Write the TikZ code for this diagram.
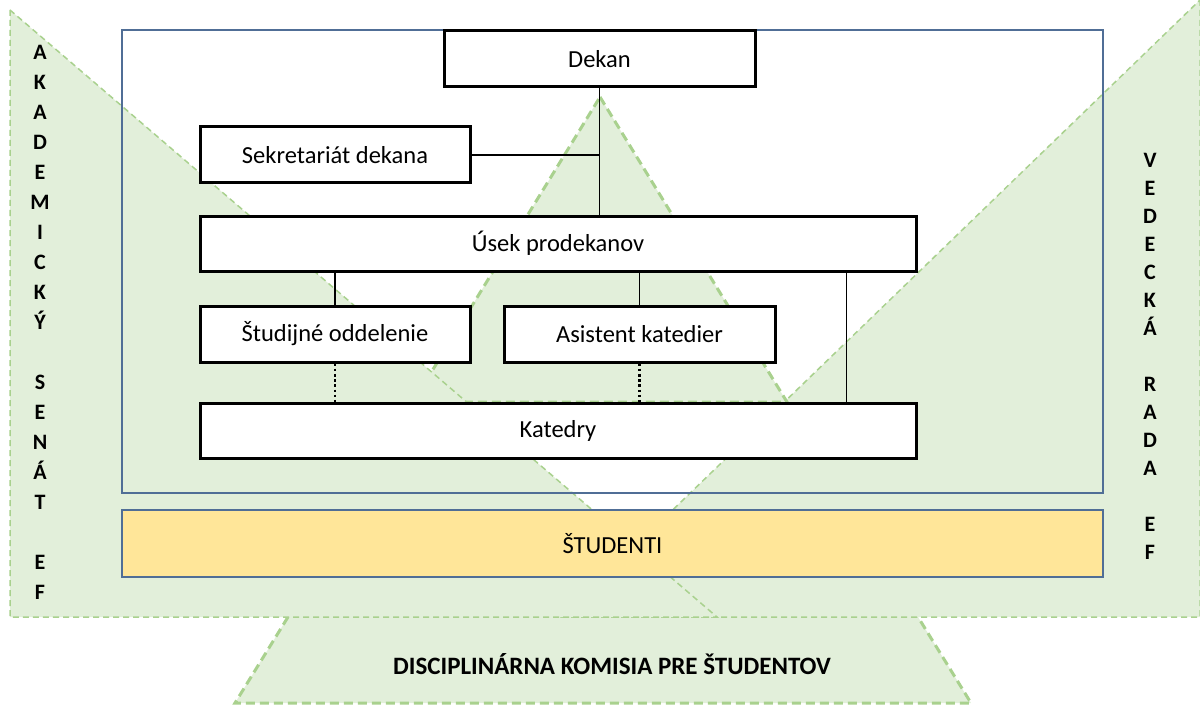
\documentclass[tikz,border=0pt]{standalone}
\usepackage{fontspec}
\setmainfont{Carlito}
\usetikzlibrary{calc}
\definecolor{councilfill}{RGB}{226,239,218}
\definecolor{councilline}{RGB}{169,209,142}
\definecolor{frameblue}{RGB}{80,110,150}
\definecolor{studyellow}{RGB}{255,230,153}
\tikzstyle{unit} = [draw, line width=3pt, fill=white, inner sep=0pt, font=\fontsize{24.5}{28}\selectfont]
\tikzstyle{council} = [fill=councilfill, draw=councilline, line width=1.5pt, dash pattern=on 6pt off 4pt]
\tikzstyle{boldcouncil} = [fill=councilfill, draw=councilline, line width=3pt, dash pattern=on 9pt off 5pt]
\tikzstyle{letters} = [align=center, inner sep=0pt, font=\bfseries\fontsize{22}{30}\selectfont]
\tikzstyle{link} = [line width=1.2pt]
\tikzstyle{weaklink} = [line width=2.6pt, dash pattern=on 2.6pt off 2.6pt]

\begin{document}
\begin{tikzpicture}[x=1pt,y=-1pt]
\useasboundingbox (0,0) rectangle (1200,706);

\path[boldcouncil] (288,617) -- (235,703) -- (971,703) -- (918,617);
\path[council] (1200,0) -- (1200,617) -- (562,617) -- cycle;
\path[boldcouncil] (600,97) -- (787,402) -- (413,402) -- cycle;
\path[council] (10,10) -- (10,617) -- (717,617) -- cycle;

\node[draw=frameblue, line width=2pt, minimum width=981pt, minimum height=463pt] (fakulta) at (612.5,261.5) {};
\node[draw=frameblue, line width=2pt, fill=studyellow, minimum width=981pt, minimum height=67pt, font=\fontsize{24.5}{28}\selectfont] (studenti) at (612.5,543.5) {ŠTUDENTI};

\node[unit, minimum width=311pt, minimum height=56pt] (dekan) at (599.5,59) {Dekan};
\node[unit, minimum width=270pt, minimum height=56pt] (sekretariat) at (335,155) {Sekretariát dekana};
\node[unit, minimum width=716pt, minimum height=55pt] (usek) at (558,243.5) {Úsek prodekanov};
\node[unit, minimum width=270pt, minimum height=56pt] (studijne) at (335,334) {Študijné oddelenie};
\node[unit, minimum width=271pt, minimum height=56pt] (asistent) at (639.5,334) {Asistent katedier};
\node[unit, minimum width=716pt, minimum height=55pt] (katedry) at (558,430.5) {Katedry};

\node[letters] (senat) at (40,322) {A\\K\\A\\D\\E\\M\\I\\C\\K\\Ý\\\mbox{}\\S\\E\\N\\Á\\T\\\mbox{}\\E\\F};
\node[letters, font=\bfseries\fontsize{22}{28}\selectfont] (rada) at (1150,356) {V\\E\\D\\E\\C\\K\\Á\\\mbox{}\\R\\A\\D\\A\\\mbox{}\\E\\F};
\node[font=\bfseries\fontsize{25}{30}\selectfont] (komisia) at (612,664) {DISCIPLINÁRNA KOMISIA PRE ŠTUDENTOV};

\draw[link] (dekan.south) -- (dekan.south |- usek.north);
\draw[link] (sekretariat.east) -- (sekretariat.east -| dekan.south);
\draw[link] (usek.south -| studijne.north) -- (studijne.north);
\draw[link] (usek.south -| asistent.north) -- (asistent.north);
\draw[link] ([xshift=-71pt]usek.south east) -- ([xshift=-71pt]katedry.north east);
\draw[weaklink] (studijne.south) -- (studijne.south |- katedry.north);
\draw[weaklink] (asistent.south) -- (asistent.south |- katedry.north);
\end{tikzpicture}
\end{document}
